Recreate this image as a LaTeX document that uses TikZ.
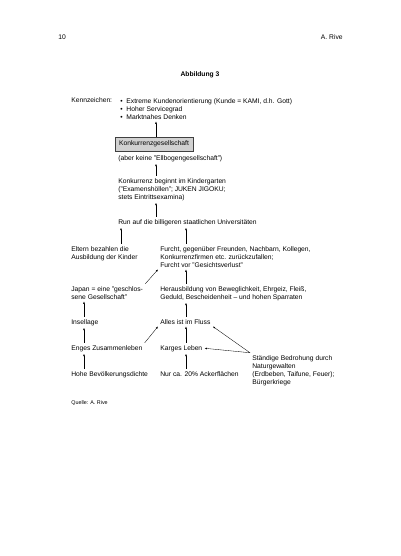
\documentclass[tikz,border=0pt]{standalone}
\usepackage{fontspec}
\setmainfont{Liberation Sans}
\usetikzlibrary{arrows.meta}

\tikzset{
  txt/.style={anchor=base west, align=left, font=\fontsize{10}{11.9}\selectfont},
  pfeil/.style={-{Latex[length=3.5pt,width=2.6pt]}, line width=0.5pt},
  kasten/.style={draw=black!75, line width=0.7pt, fill=black!18,
    minimum width=116pt, minimum height=21pt, font=\fontsize{10}{11.9}\selectfont}
}

\begin{document}
\begin{tikzpicture}[x=1.4875pt, y=-1.4875pt]
\useasboundingbox (0,0) rectangle (400,556);

% =========================================================
% Kopfzeile
% =========================================================
\node[txt] (seite) at (56,40) {10};
\node[txt, anchor=base east] (autor) at (345,40) {A. Rive};
\node[txt, anchor=base, font=\fontsize{10}{11.9}\selectfont\bfseries] (titel) at (200,77) {Abbildung 3};

% =========================================================
% Kennzeichen und Konkurrenzgesellschaft
% (mehrzeilige Knoten: Basislinie = letzte Zeile)
% =========================================================
\node[txt] (kennz) at (69,103) {Kennzeichen:};
\node[txt] (merkmale) at (118,119) {\makebox[9pt][l]{\textbullet}Extreme Kundenorientierung (Kunde = KAMI, d.h. Gott)\\
  \makebox[9pt][l]{\textbullet}Hoher Servicegrad\\
  \makebox[9pt][l]{\textbullet}Marktnahes Denken};
\node[kasten] (konk) at (154,144) {Konkurrenzgesellschaft};
\node[txt] (ellbogen) at (116,160) {(aber keine "Ellbogengesellschaft")};
\node[txt] (kinderg) at (116,199) {Konkurrenz beginnt im Kindergarten\\("Examenshöllen"; JUKEN JIGOKU;\\stets Eintrittsexamina)};
\node[txt] (run) at (116,224) {Run auf die billigeren staatlichen Universitäten};

% =========================================================
% linke und rechte Spalte
% =========================================================
\node[txt] (eltern) at (69,259) {Eltern bezahlen die\\Ausbildung der Kinder};
\node[txt] (furcht) at (158,267) {Furcht, gegenüber Freunden, Nachbarn, Kollegen,\\Konkurrenzfirmen etc. zurückzufallen;\\Furcht vor "Gesichtsverlust"};
\node[txt] (japan) at (69,299) {Japan = eine "geschlos-\\sene Gesellschaft"};
\node[txt] (heraus) at (158,299) {Herausbildung von Beweglichkeit, Ehrgeiz, Fleiß,\\Geduld, Bescheidenheit -- und hohen Sparraten};
\node[txt] (insel) at (69,324) {Insellage};
\node[txt] (fluss) at (158,324) {Alles ist im Fluss};
\node[txt] (enges) at (69,350) {Enges Zusammenleben};
\node[txt] (karges) at (158,350) {Karges Leben};
\node[txt] (bedroh) at (250,384) {Ständige Bedrohung durch\\Naturgewalten\\(Erdbeben, Taifune, Feuer);\\Bürgerkriege};
\node[txt] (dichte) at (69,376) {Hohe Bevölkerungsdichte};
\node[txt] (acker) at (158,376) {Nur ca. 20\% Ackerflächen};

\node[txt, font=\fontsize{8}{9.5}\selectfont] (quelle) at (69,404) {Quelle: A. Rive};

% =========================================================
% Pfeile
% =========================================================
\coordinate (mitte) at (156,0);
\coordinate (links) at (84,0);
\coordinate (rechts) at (186,0);
\coordinate (eltx) at (121,0);

\draw[pfeil] (mitte |- konk.north) -- (mitte |- merkmale.south);
\draw[pfeil] (mitte |- kinderg.north) -- (mitte |- ellbogen.south);
\draw[pfeil] (mitte |- run.north) -- (mitte |- kinderg.south);
\draw[pfeil] (eltx |- eltern.north) -- (eltx |- run.south);
\draw[pfeil] (rechts |- furcht.north) -- (rechts |- run.south);
\draw[pfeil] (japan.north east) -- (furcht.south west);
\draw[pfeil] (rechts |- heraus.north) -- (rechts |- furcht.south);
\draw[pfeil] (links |- insel.north) -- (links |- japan.south);
\draw[pfeil] (rechts |- fluss.north) -- (rechts |- heraus.south);
\draw[pfeil] (links |- enges.north) -- (links |- insel.south);
\draw[pfeil] (enges.north east) -- (fluss.south west);
\draw[pfeil] (rechts |- karges.north) -- (rechts |- fluss.south);
\draw[pfeil] (bedroh.north west) -- (fluss.south east);
\draw[pfeil] (bedroh.north west) -- (karges.east);
\draw[pfeil] (links |- dichte.north) -- (links |- enges.south);
\draw[pfeil] (rechts |- acker.north) -- (rechts |- karges.south);

\end{tikzpicture}
\end{document}
